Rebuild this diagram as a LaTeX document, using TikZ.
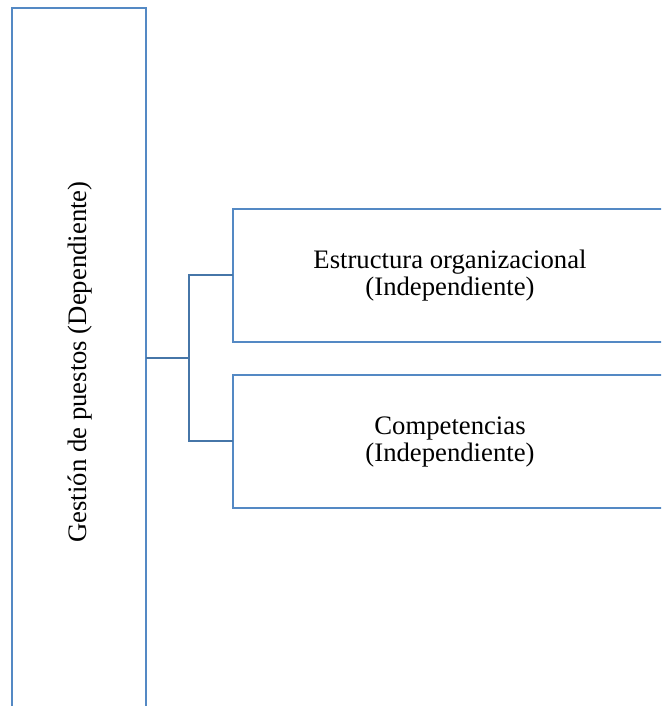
\documentclass[tikz,border=0pt]{standalone}
\usepackage{fontspec}
\setmainfont{Liberation Serif}
\begin{document}
\begin{tikzpicture}[x=1pt,y=-1pt,
  boxline/.style={draw={rgb,255:red,84;green,137;blue,196}, line width=2.2pt},
  conn/.style={draw={rgb,255:red,70;green,118;blue,168}, line width=2.2pt},
  lbl/.style={font=\fontsize{26.7}{27}\selectfont, align=center, inner sep=0pt}]
\useasboundingbox (0,0) rectangle (661,706);
\clip (0,0) rectangle (661,706);
% left box (open at bottom)
\draw[boxline] (12,720) -- (12,8) -- (146,8) -- (146,720);
% right boxes (open at right)
\draw[boxline] (670,209) -- (233,209) -- (233,342) -- (670,342);
\draw[boxline] (670,375) -- (233,375) -- (233,508) -- (670,508);
\coordinate (lb) at (146,358);
\coordinate (b1) at (233,275);
\coordinate (b2) at (233,441);
\coordinate (j) at (189,358);
\node[lbl, rotate=90] (g) at (80,362) {Gestión de puestos (Dependiente)};
\node[lbl] (e) at (450,276) {Estructura organizacional\\(Independiente)};
\node[lbl] (c) at (450,442) {Competencias\\(Independiente)};
\draw[conn] (lb) -- (j);
\draw[conn] (b1) -| (j) |- (b2);
\end{tikzpicture}
\end{document}
